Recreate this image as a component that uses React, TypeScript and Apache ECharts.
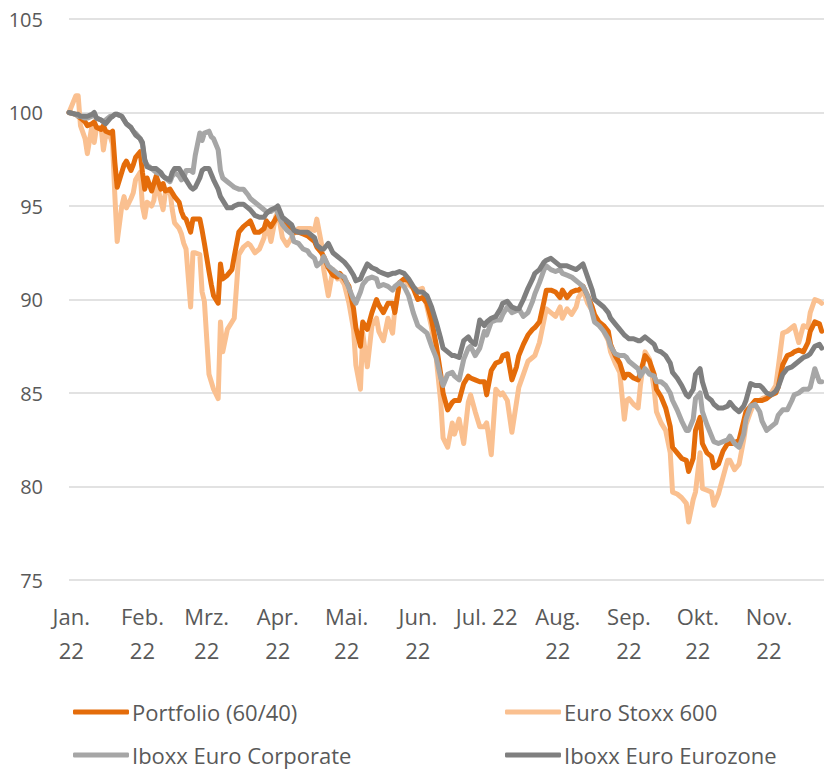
import React, { useEffect, useRef } from "react";
import * as echarts from "echarts";

// Dates of the index readings (base 100 = 31 Dec 2021)
const dates = [
  "2021-12-31", "2022-01-03", "2022-01-04", "2022-01-05", "2022-01-07", "2022-01-08", "2022-01-10", "2022-01-11", "2022-01-12", "2022-01-14", "2022-01-15", "2022-01-16", "2022-01-18", "2022-01-19", "2022-01-20", "2022-01-21", "2022-01-23", "2022-01-24", "2022-01-25", "2022-01-27", "2022-01-28", "2022-01-29", "2022-01-31",
  "2022-02-01", "2022-02-02", "2022-02-03", "2022-02-05", "2022-02-06", "2022-02-07", "2022-02-09", "2022-02-10", "2022-02-11", "2022-02-13", "2022-02-14", "2022-02-15", "2022-02-17", "2022-02-18", "2022-02-19", "2022-02-20", "2022-02-22", "2022-02-23", "2022-02-24", "2022-02-26", "2022-02-27", "2022-02-28",
  "2022-03-02", "2022-03-03", "2022-03-04", "2022-03-06", "2022-03-07", "2022-03-08", "2022-03-10", "2022-03-12", "2022-03-13", "2022-03-15", "2022-03-17", "2022-03-19", "2022-03-20", "2022-03-22", "2022-03-24", "2022-03-26", "2022-03-27", "2022-03-29", "2022-03-31",
  "2022-04-01", "2022-04-03", "2022-04-05", "2022-04-07", "2022-04-08", "2022-04-10", "2022-04-12", "2022-04-14", "2022-04-15", "2022-04-17", "2022-04-18", "2022-04-20", "2022-04-21", "2022-04-23", "2022-04-25", "2022-04-27", "2022-04-28", "2022-04-30",
  "2022-05-02", "2022-05-04", "2022-05-05", "2022-05-07", "2022-05-08", "2022-05-10", "2022-05-12", "2022-05-14", "2022-05-15", "2022-05-17", "2022-05-19", "2022-05-21", "2022-05-22", "2022-05-24", "2022-05-26", "2022-05-28", "2022-05-30",
  "2022-06-01", "2022-06-03", "2022-06-05", "2022-06-07", "2022-06-09", "2022-06-11", "2022-06-12", "2022-06-14", "2022-06-16", "2022-06-17", "2022-06-19", "2022-06-21", "2022-06-23", "2022-06-24", "2022-06-26", "2022-06-28", "2022-06-30",
  "2022-07-01", "2022-07-03", "2022-07-05", "2022-07-07", "2022-07-08", "2022-07-10", "2022-07-12", "2022-07-14", "2022-07-15", "2022-07-17", "2022-07-19", "2022-07-21", "2022-07-22", "2022-07-24", "2022-07-26", "2022-07-27", "2022-07-29", "2022-07-31",
  "2022-08-02", "2022-08-03", "2022-08-05", "2022-08-07", "2022-08-09", "2022-08-10", "2022-08-12", "2022-08-14", "2022-08-16", "2022-08-17", "2022-08-19", "2022-08-21", "2022-08-23", "2022-08-24", "2022-08-26", "2022-08-28", "2022-08-30", "2022-08-31",
  "2022-09-01", "2022-09-03", "2022-09-05", "2022-09-06", "2022-09-08", "2022-09-10", "2022-09-12", "2022-09-13", "2022-09-15", "2022-09-17", "2022-09-19", "2022-09-20", "2022-09-22", "2022-09-24", "2022-09-26", "2022-09-27", "2022-09-29", "2022-09-30",
  "2022-10-02", "2022-10-03", "2022-10-05", "2022-10-07", "2022-10-08", "2022-10-10", "2022-10-12", "2022-10-14", "2022-10-15", "2022-10-17", "2022-10-19", "2022-10-21", "2022-10-22", "2022-10-24", "2022-10-26", "2022-10-28", "2022-10-29", "2022-10-31",
  "2022-11-02", "2022-11-04", "2022-11-05", "2022-11-07", "2022-11-09", "2022-11-11", "2022-11-12", "2022-11-14", "2022-11-16", "2022-11-18", "2022-11-19", "2022-11-21", "2022-11-23", "2022-11-24",
];

const portfolio = [
  100.0, 99.9, 99.8, 99.7, 99.5, 99.3, 99.4, 99.5, 99.2, 99.1, 99.3, 99.0, 98.9, 99.0, 97.3, 96.0, 96.8, 97.2, 97.4, 96.9, 97.2, 97.6, 97.9,
  96.8, 95.9, 96.5, 95.8, 96.2, 96.6, 95.9, 96.2, 95.8, 95.9, 95.7, 95.5, 95.2, 94.7, 94.4, 94.3, 93.6, 94.3, 94.3, 94.3, 93.7, 93.0,
  91.5, 90.8, 90.2, 89.8, 91.9, 91.1, 91.3, 91.6, 92.3, 93.6, 93.9, 94.1, 94.2, 93.6, 93.6, 93.8, 94.2, 93.9, 94.3,
  94.5, 94.1, 94.0, 93.7, 93.6, 93.6, 93.5, 93.4, 93.3, 93.1, 92.8, 92.5, 92.3, 91.7, 91.3, 91.2, 91.4, 91.1,
  90.7, 89.5, 88.5, 87.5, 88.8, 88.4, 89.3, 90.0, 89.7, 89.3, 89.8, 89.8, 89.3, 90.9, 91.1, 91.0, 90.6,
  90.0, 90.1, 89.8, 88.9, 87.6, 86.0, 85.0, 84.1, 84.5, 84.6, 84.6, 85.5, 85.9, 85.8, 85.7, 85.6, 85.6,
  84.9, 86.2, 86.6, 86.7, 87.0, 87.1, 85.7, 86.4, 87.0, 87.6, 88.1, 88.4, 88.5, 88.8, 89.9, 90.5, 90.5, 90.4,
  90.1, 90.5, 90.1, 90.4, 90.5, 90.5, 90.7, 90.2, 89.6, 89.2, 88.8, 88.6, 88.3, 87.6, 87.0, 86.6, 85.8, 86.0,
  86.0, 85.8, 85.7, 86.1, 87.0, 86.7, 86.0, 85.2, 84.8, 84.2, 83.2, 82.1, 81.8, 81.5, 81.4, 80.8, 81.5, 83.0,
  83.7, 82.3, 81.8, 81.6, 81.0, 81.2, 81.9, 82.3, 82.3, 82.3, 82.5, 83.5, 84.0, 84.3, 84.6, 84.6, 84.6, 84.7,
  84.9, 85.0, 85.3, 86.5, 87.0, 87.1, 87.2, 87.3, 87.2, 87.7, 88.3, 88.8, 88.7, 88.3,
];

const euroStoxx600 = [
  100.0, 100.9, 100.9, 99.3, 98.6, 97.8, 99.3, 98.4, 99.2, 99.2, 98.0, 98.8, 98.7, 98.3, 95.5, 93.1, 95.0, 95.5, 94.9, 95.4, 95.7, 96.4, 96.8,
  95.0, 94.4, 95.2, 95.0, 95.3, 96.3, 95.3, 94.8, 95.7, 95.8, 94.8, 94.1, 93.8, 93.5, 93.0, 92.7, 89.6, 92.5, 92.5, 92.4, 90.4, 89.9,
  86.0, 85.6, 85.2, 84.7, 88.8, 87.2, 88.4, 88.8, 89.0, 92.4, 92.8, 93.0, 92.9, 92.5, 92.7, 93.3, 94.2, 93.1, 94.4,
  94.7, 93.3, 92.9, 93.3, 93.6, 93.8, 93.8, 93.8, 93.8, 93.7, 94.3, 93.0, 91.6, 90.2, 91.6, 91.1, 91.2, 90.8,
  89.8, 88.4, 86.5, 85.2, 88.2, 86.4, 88.6, 89.0, 88.3, 87.8, 89.0, 88.2, 89.5, 90.8, 91.1, 90.8, 90.6,
  90.5, 90.6, 89.6, 88.5, 86.9, 84.5, 82.6, 82.1, 83.4, 82.8, 83.6, 82.3, 84.5, 84.9, 84.0, 83.2, 83.2,
  83.4, 81.7, 85.2, 84.9, 85.0, 84.6, 82.9, 84.5, 85.3, 86.0, 86.7, 86.9, 87.0, 87.7, 88.9, 89.5, 89.3, 89.1,
  89.6, 89.0, 89.5, 89.2, 89.6, 90.1, 90.5, 89.8, 89.4, 89.1, 88.7, 88.3, 87.8, 87.2, 86.6, 86.1, 83.6, 84.6,
  84.7, 84.4, 84.2, 85.4, 87.2, 86.8, 85.2, 84.0, 83.4, 83.0, 81.8, 79.7, 79.6, 79.4, 79.1, 78.1, 79.3, 79.7,
  81.8, 79.9, 79.8, 79.7, 79.0, 79.6, 80.5, 81.4, 81.4, 80.9, 81.2, 82.5, 83.3, 84.0, 84.6, 84.6, 84.7, 84.8,
  85.0, 85.4, 86.3, 88.2, 88.3, 88.5, 88.6, 87.7, 88.6, 88.5, 89.3, 90.0, 89.9, 89.8,
];

const iboxxEuroCorporate = [
  100.0, 99.9, 99.8, 99.8, 99.7, 99.7, 99.8, 99.9, 99.7, 99.6, 99.5, 99.6, 99.8, 99.8, 99.9, 99.9, 99.8, 99.6, 99.4, 99.2, 99.0, 98.9, 98.6,
  98.3, 97.4, 97.2, 97.0, 96.9, 96.8, 96.7, 96.6, 96.5, 96.3, 96.6, 96.8, 96.6, 96.4, 96.5, 96.9, 96.9, 96.8, 97.7, 98.9, 98.5, 98.9,
  99.0, 98.7, 98.6, 98.0, 96.9, 96.5, 96.3, 96.1, 96.0, 95.9, 95.9, 95.6, 95.4, 95.2, 95.0, 94.8, 94.7, 94.7, 94.9,
  94.6, 94.0, 93.7, 93.5, 93.1, 93.0, 92.7, 92.6, 92.4, 92.2, 91.8, 92.0, 92.3, 91.8, 91.6, 91.4, 91.3, 91.2,
  90.6, 90.0, 89.8, 90.4, 90.8, 91.1, 91.2, 91.1, 90.7, 90.8, 90.7, 90.5, 90.7, 90.9, 90.7, 90.2, 89.3,
  88.6, 88.4, 88.2, 87.5, 86.9, 85.8, 85.4, 86.0, 86.1, 85.9, 85.7, 86.8, 87.4, 87.5, 87.0, 87.4, 88.3,
  88.1, 88.8, 88.9, 88.9, 89.2, 89.6, 89.3, 89.4, 89.5, 89.1, 89.3, 89.9, 90.3, 90.9, 91.6, 91.8, 91.6, 91.5,
  91.6, 91.4, 91.3, 91.2, 91.0, 90.9, 90.7, 90.2, 89.3, 88.8, 88.6, 88.3, 87.9, 87.5, 87.1, 87.0, 87.0, 86.9,
  86.7, 86.5, 86.3, 85.9, 86.3, 86.0, 85.9, 85.6, 85.6, 85.4, 85.0, 84.6, 84.1, 83.5, 83.0, 83.0, 83.6, 84.7,
  85.0, 84.0, 83.3, 82.7, 82.4, 82.3, 82.4, 82.5, 82.7, 82.3, 82.1, 82.8, 83.6, 84.3, 84.4, 84.0, 83.5, 83.0,
  83.2, 83.4, 83.8, 84.1, 84.1, 84.6, 84.9, 85.0, 85.2, 85.2, 85.3, 86.3, 85.6, 85.6,
];

const iboxxEuroEurozone = [
  100.0, 99.9, 99.9, 99.8, 99.8, 99.8, 99.9, 100.0, 99.7, 99.6, 99.5, 99.4, 99.7, 99.8, 99.9, 99.9, 99.8, 99.6, 99.4, 99.2, 99.0, 98.8, 98.6,
  98.4, 97.5, 97.1, 97.0, 97.0, 97.0, 96.8, 96.6, 96.5, 96.4, 96.8, 97.0, 97.0, 96.8, 96.6, 96.4, 96.0, 95.9, 96.0, 96.5, 96.9, 97.0,
  97.0, 96.7, 96.4, 95.9, 95.5, 95.3, 94.9, 94.9, 95.0, 95.1, 95.1, 94.9, 94.8, 94.5, 94.4, 94.4, 94.6, 94.8, 94.9,
  95.0, 94.4, 94.2, 94.0, 93.7, 93.6, 93.6, 93.6, 93.5, 93.3, 92.9, 92.7, 92.7, 93.0, 92.5, 92.3, 92.2, 92.0,
  91.7, 91.3, 91.0, 91.1, 91.4, 91.9, 91.7, 91.6, 91.5, 91.4, 91.3, 91.4, 91.4, 91.5, 91.4, 91.1, 90.7,
  90.4, 90.4, 90.2, 89.6, 88.8, 87.9, 87.4, 87.2, 87.0, 87.0, 86.9, 87.8, 88.0, 87.8, 87.6, 88.9, 88.6,
  88.8, 89.0, 89.1, 89.5, 89.8, 89.9, 89.6, 89.5, 89.5, 90.0, 90.6, 91.1, 91.4, 91.6, 92.0, 92.1, 92.2, 92.0,
  91.8, 91.8, 91.8, 91.7, 91.6, 91.7, 91.9, 91.2, 90.5, 90.0, 89.8, 89.6, 89.3, 89.0, 88.7, 88.4, 88.1, 88.0,
  87.9, 87.9, 87.8, 87.8, 88.0, 87.8, 87.6, 87.3, 87.2, 87.0, 86.6, 86.1, 85.8, 85.4, 84.9, 84.8, 85.2, 86.0,
  86.3, 85.6, 84.8, 84.6, 84.4, 84.2, 84.2, 84.3, 84.5, 84.2, 84.0, 84.3, 84.6, 85.5, 85.4, 85.4, 85.3, 85.0,
  84.9, 85.1, 85.3, 86.0, 86.3, 86.4, 86.5, 86.7, 86.9, 87.0, 87.1, 87.5, 87.6, 87.4,
];

const seriesNames = ["Portfolio (60/40)", "Euro Stoxx 600", "Iboxx Euro Corporate", "Iboxx Euro Eurozone"];
const monthLabels = ["Jan.", "Feb.", "Mrz.", "Apr.", "Mai.", "Jun.", "Jul.", "Aug.", "Sep.", "Okt.", "Nov.", "Dez."];
const yearLabel = "22";
const yMin = 75;
const yMax = 105;
const yStep = 5;
const xStart = "2021-12-31";
const xEnd = "2022-11-25";

const FONT = "'Open Sans', 'Noto Sans', sans-serif";
const TEXT = "#595959";
const COLORS: Record<string, string> = {
  "Portfolio (60/40)": "#E46C0A",
  "Euro Stoxx 600": "#FAC090",
  "Iboxx Euro Corporate": "#A6A6A6",
  "Iboxx Euro Eurozone": "#7F7F7F",
};
const DAY = 86400000;

export default function App() {
  const ref = useRef<HTMLDivElement>(null);
  useEffect(() => {
    if (!ref.current) return;
    const chart = echarts.init(ref.current, null, { renderer: "svg" });
    const valuesByName: Record<string, number[]> = {
      "Portfolio (60/40)": portfolio,
      "Euro Stoxx 600": euroStoxx600,
      "Iboxx Euro Corporate": iboxxEuroCorporate,
      "Iboxx Euro Eurozone": iboxxEuroEurozone,
    };
    // drawing order: light orange at the back, dark gray on top
    const drawOrder = ["Euro Stoxx 600", "Portfolio (60/40)", "Iboxx Euro Corporate", "Iboxx Euro Eurozone"];
    const legendPos = [
      { left: 73, top: 701 },
      { left: 505, top: 701 },
      { left: 73, top: 744 },
      { left: 505, top: 744 },
    ];
    chart.setOption({
      animation: false,
      backgroundColor: "#ffffff",
      grid: { left: 69, right: 0, top: 19, bottom: 191, containLabel: false },
      legend: seriesNames.map((n, i) => ({
        data: [n],
        left: legendPos[i].left,
        top: legendPos[i].top,
        icon: "roundRect",
        itemWidth: 56,
        itemHeight: 5,
        selectedMode: false,
        padding: 0,
        textStyle: { color: TEXT, fontSize: 22, fontFamily: FONT, padding: [0, 0, 0, -2] },
      })),
      xAxis: {
        type: "time",
        min: xStart,
        max: xEnd,
        splitNumber: 11,
        minInterval: 28 * DAY,
        maxInterval: 31 * DAY,
        axisLine: { show: false },
        axisTick: { show: false },
        splitLine: { show: false },
        axisLabel: {
          color: TEXT,
          fontSize: 22,
          fontFamily: FONT,
          lineHeight: 34,
          margin: 19,
          hideOverlap: false,
          formatter: (value: number) => {
            const d = new Date(value);
            if (d.getDate() !== 1) return "";
            const m = d.getMonth();
            return m === 6 ? `${monthLabels[m]} ${yearLabel}` : `${monthLabels[m]}\n${yearLabel}`;
          },
        },
      },
      yAxis: {
        type: "value",
        min: yMin,
        max: yMax,
        interval: yStep,
        axisLine: { show: false },
        axisTick: { show: false },
        axisLabel: { color: TEXT, fontSize: 20, fontFamily: FONT, margin: 26 },
        splitLine: { lineStyle: { color: "#D9D9D9", width: 1.5 } },
      },
      series: drawOrder.map((n) => ({
        name: n,
        type: "line",
        symbol: "none",
        showSymbol: false,
        color: COLORS[n],
        lineStyle: { width: 5, color: COLORS[n], cap: "round", join: "round" },
        data: dates.map((d, i) => [d, valuesByName[n][i]]),
      })),
    });
    return () => chart.dispose();
  }, []);
  return (
    <div
      ref={ref}
      style={{ position: "fixed", left: 0, top: 0, width: 824, height: 771, background: "#fff" }}
    />
  );
}
